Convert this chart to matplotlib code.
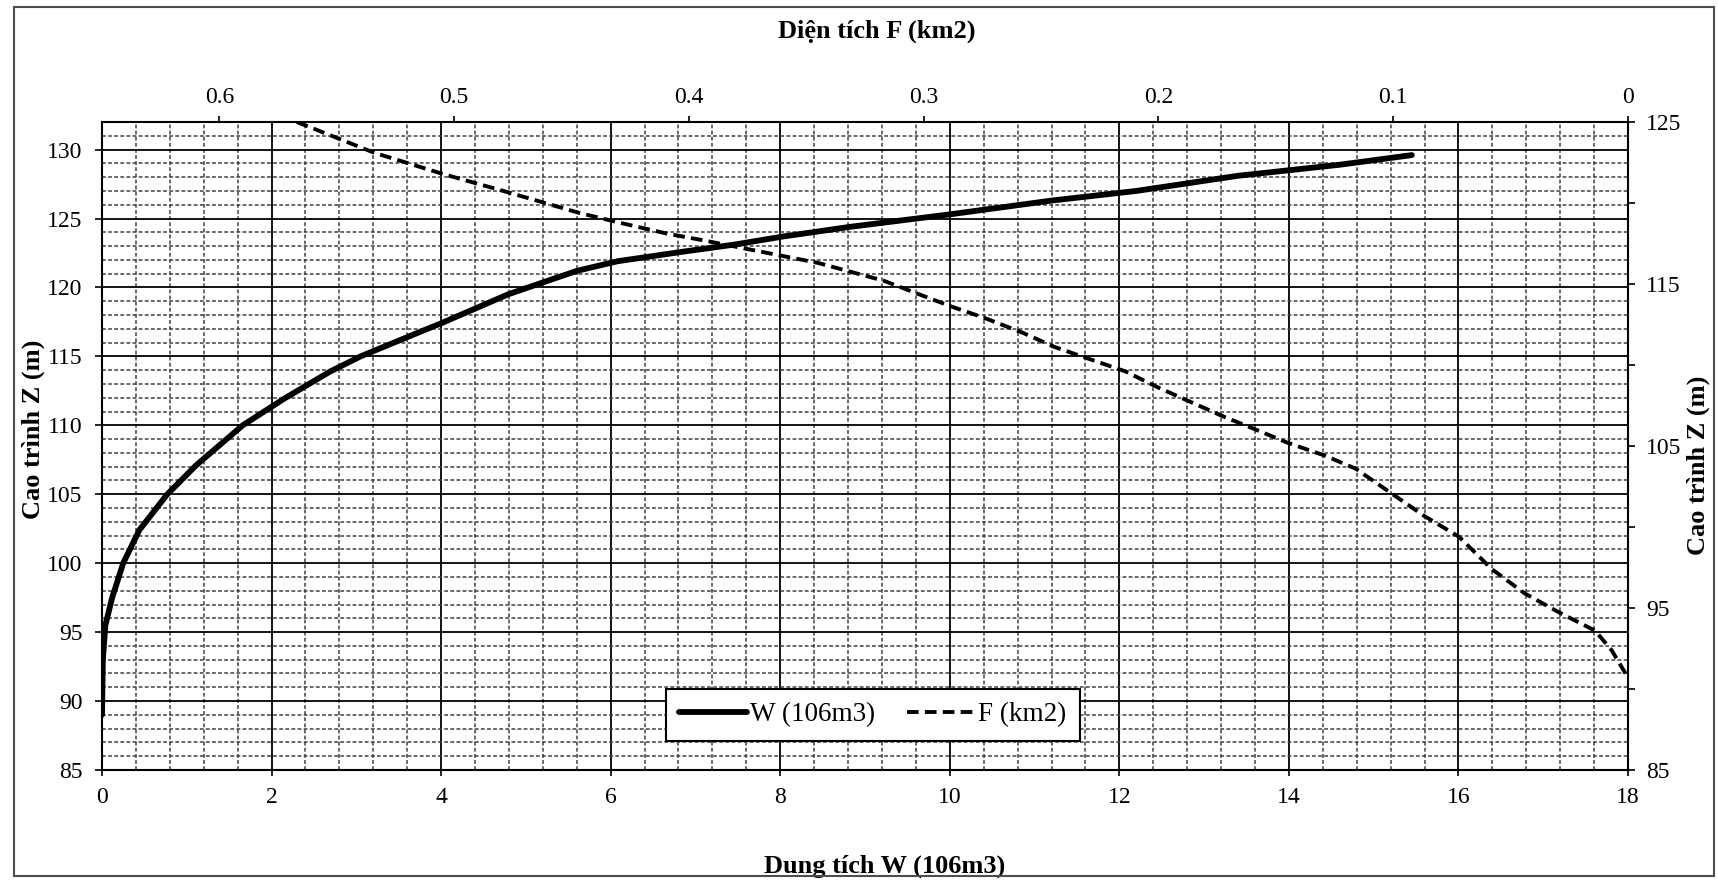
import numpy as np
import matplotlib
matplotlib.use("Agg")
import matplotlib.pyplot as plt
from matplotlib.ticker import MultipleLocator, FixedLocator, FixedFormatter
from matplotlib.patches import Rectangle

# ---------------- data ----------------
# Storage curve W (10^6 m3) vs elevation Z (m), left/bottom axes
W_values = [0.0, 0.01, 0.04, 0.12, 0.25, 0.44, 0.77, 1.11, 1.66, 2.14, 2.69,
            3.05, 3.76, 4.00, 4.79, 5.17, 5.60, 6.08, 6.86, 7.45, 8.04, 8.83,
            10.0, 11.2, 12.2, 13.4, 14.6, 15.45]
Z_W = [89.0, 93.0, 95.5, 97.5, 100.0, 102.4, 105.0, 107.1, 110.0, 111.9, 113.9,
       115.0, 116.8, 117.4, 119.5, 120.3, 121.2, 121.9, 122.6, 123.1, 123.7, 124.4,
       125.3, 126.3, 127.0, 128.1, 128.9, 129.6]

# Area curve F (km2) vs elevation Z (m), top/right axes
F_values = [0.567, 0.534, 0.505, 0.478, 0.447, 0.430, 0.409, 0.394, 0.373, 0.345,
            0.317, 0.299, 0.288, 0.274, 0.258, 0.244, 0.230, 0.214, 0.200, 0.186,
            0.172, 0.160, 0.145, 0.129, 0.116, 0.101, 0.087, 0.072, 0.058, 0.044,
            0.029, 0.014, 0.007, 0.0]
Z_F = [125.0, 123.1, 121.8, 120.7, 119.4, 118.8, 118.1, 117.7, 117.1, 116.3,
       115.2, 114.2, 113.6, 112.9, 112.0, 111.1, 110.4, 109.6, 108.6, 107.7,
       106.8, 106.1, 105.2, 104.4, 103.6, 102.1, 100.7, 99.4, 97.4, 95.9,
       94.7, 93.6, 92.4, 90.7]

bottom_ticks = [0, 2, 4, 6, 8, 10, 12, 14, 16, 18]
left_ticks = [85, 90, 95, 100, 105, 110, 115, 120, 125, 130]
top_ticks = [0.6, 0.5, 0.4, 0.3, 0.2, 0.1, 0.0]
top_tick_labels = ["0.6", "0.5", "0.4", "0.3", "0.2", "0.1", "0"]
right_ticks = [85, 95, 105, 115, 125]

label_bottom = "Dung tích W (106m3)"
label_top = "Diện tích F (km2)"
label_left = "Cao trình Z (m)"
label_right = "Cao trình Z (m)"
legend_W = "W (106m3)"
legend_F = "F (km2)"

# ---------------- style ----------------
SERIF = ["Liberation Serif", "DejaVu Serif"]
plt.rcParams["font.family"] = SERIF
TICK_FS = 17
LABEL_FS = 19

W_PX, H_PX = 1718, 880
fig = plt.figure(figsize=(W_PX / 100, H_PX / 100), dpi=100)
fig.patch.set_facecolor("white")

L, R, T, B = 102, 1628, 122, 770
rect = [L / W_PX, 1 - B / H_PX, (R - L) / W_PX, (B - T) / H_PX]

ax = fig.add_axes(rect)
ax.set_xlim(0, 18)
ax.set_ylim(85, 132)
ax.xaxis.set_major_locator(FixedLocator(bottom_ticks))
ax.xaxis.set_minor_locator(MultipleLocator(0.4))
ax.yaxis.set_major_locator(FixedLocator(left_ticks))
ax.yaxis.set_minor_locator(MultipleLocator(1))
ax.grid(which="major", color="black", lw=1.3, ls="-")
ax.grid(which="minor", color="0.25", lw=1.1, ls=(0, (2.5, 1.5)))
ax.set_axisbelow(True)
ax.tick_params(which="minor", length=0)
ax.tick_params(axis="x", which="major", direction="out", length=4, width=1.2,
               labelsize=TICK_FS, pad=8)
ax.tick_params(axis="y", which="major", direction="out", length=5, width=1.2,
               labelsize=TICK_FS, pad=9)
for s in ax.spines.values():
    s.set_linewidth(1.5)
    s.set_color("black")

line_w, = ax.plot(W_values, Z_W, color="black", lw=4.2, solid_capstyle="round",
                  solid_joinstyle="round", label=legend_W, zorder=5)

ax.set_xlabel(label_bottom, fontsize=LABEL_FS, fontweight="bold")
ax.xaxis.set_label_coords(0.513, -0.148)
ax.xaxis.label.set_va("center")
ax.set_ylabel(label_left, fontsize=LABEL_FS, fontweight="bold")
ax.yaxis.set_label_coords(-0.045, 0.525)
ax.yaxis.label.set_va("center")

# secondary axes: top F (reversed), right Z
ax2 = fig.add_axes(rect, frameon=False)
ax2.patch.set_alpha(0)
ax2.set_xlim(0.65, 0)
ax2.set_ylim(85, 125)
ax2.xaxis.tick_top()
ax2.xaxis.set_label_position("top")
ax2.yaxis.tick_right()
ax2.yaxis.set_label_position("right")
ax2.xaxis.set_major_locator(FixedLocator(top_ticks))
ax2.xaxis.set_major_formatter(FixedFormatter(top_tick_labels))
ax2.yaxis.set_major_locator(FixedLocator(right_ticks))
ax2.yaxis.set_minor_locator(MultipleLocator(5))
ax2.tick_params(axis="x", which="major", direction="out", length=4, width=1.2,
                labelsize=TICK_FS, pad=6)
ax2.tick_params(axis="y", which="both", direction="out", length=5, width=1.2,
                labelsize=TICK_FS, pad=8)

line_f, = ax2.plot(F_values, Z_F, color="black", lw=2.8, ls=(0, (3, 1.6)),
                   label=legend_F, zorder=5)

ax2.set_xlabel(label_top, fontsize=LABEL_FS, fontweight="bold")
ax2.xaxis.set_label_coords(0.508, 1.14)
ax2.xaxis.label.set_va("center")
ax2.set_ylabel(label_right, fontsize=LABEL_FS, fontweight="bold")
ax2.yaxis.set_label_coords(1.046, 0.47)
ax2.yaxis.label.set_va("center")

leg = ax2.legend(handles=[line_w, line_f], loc="center",
                 bbox_to_anchor=(0.505, 0.085), ncol=2, fontsize=19.5,
                 frameon=True, fancybox=False, framealpha=1,
                 edgecolor="black", handlelength=2.5, handletextpad=0.1,
                 columnspacing=1.2, borderpad=0.5, borderaxespad=0)
leg.get_frame().set_linewidth(1.5)

# outer chart border
fig.patches.append(Rectangle((14 / W_PX, 4 / H_PX), 1700 / W_PX, 869 / H_PX,
                             transform=fig.transFigure, fill=False,
                             edgecolor="0.3", lw=1.5))

fig.savefig("out.png", dpi=100, facecolor="white")
